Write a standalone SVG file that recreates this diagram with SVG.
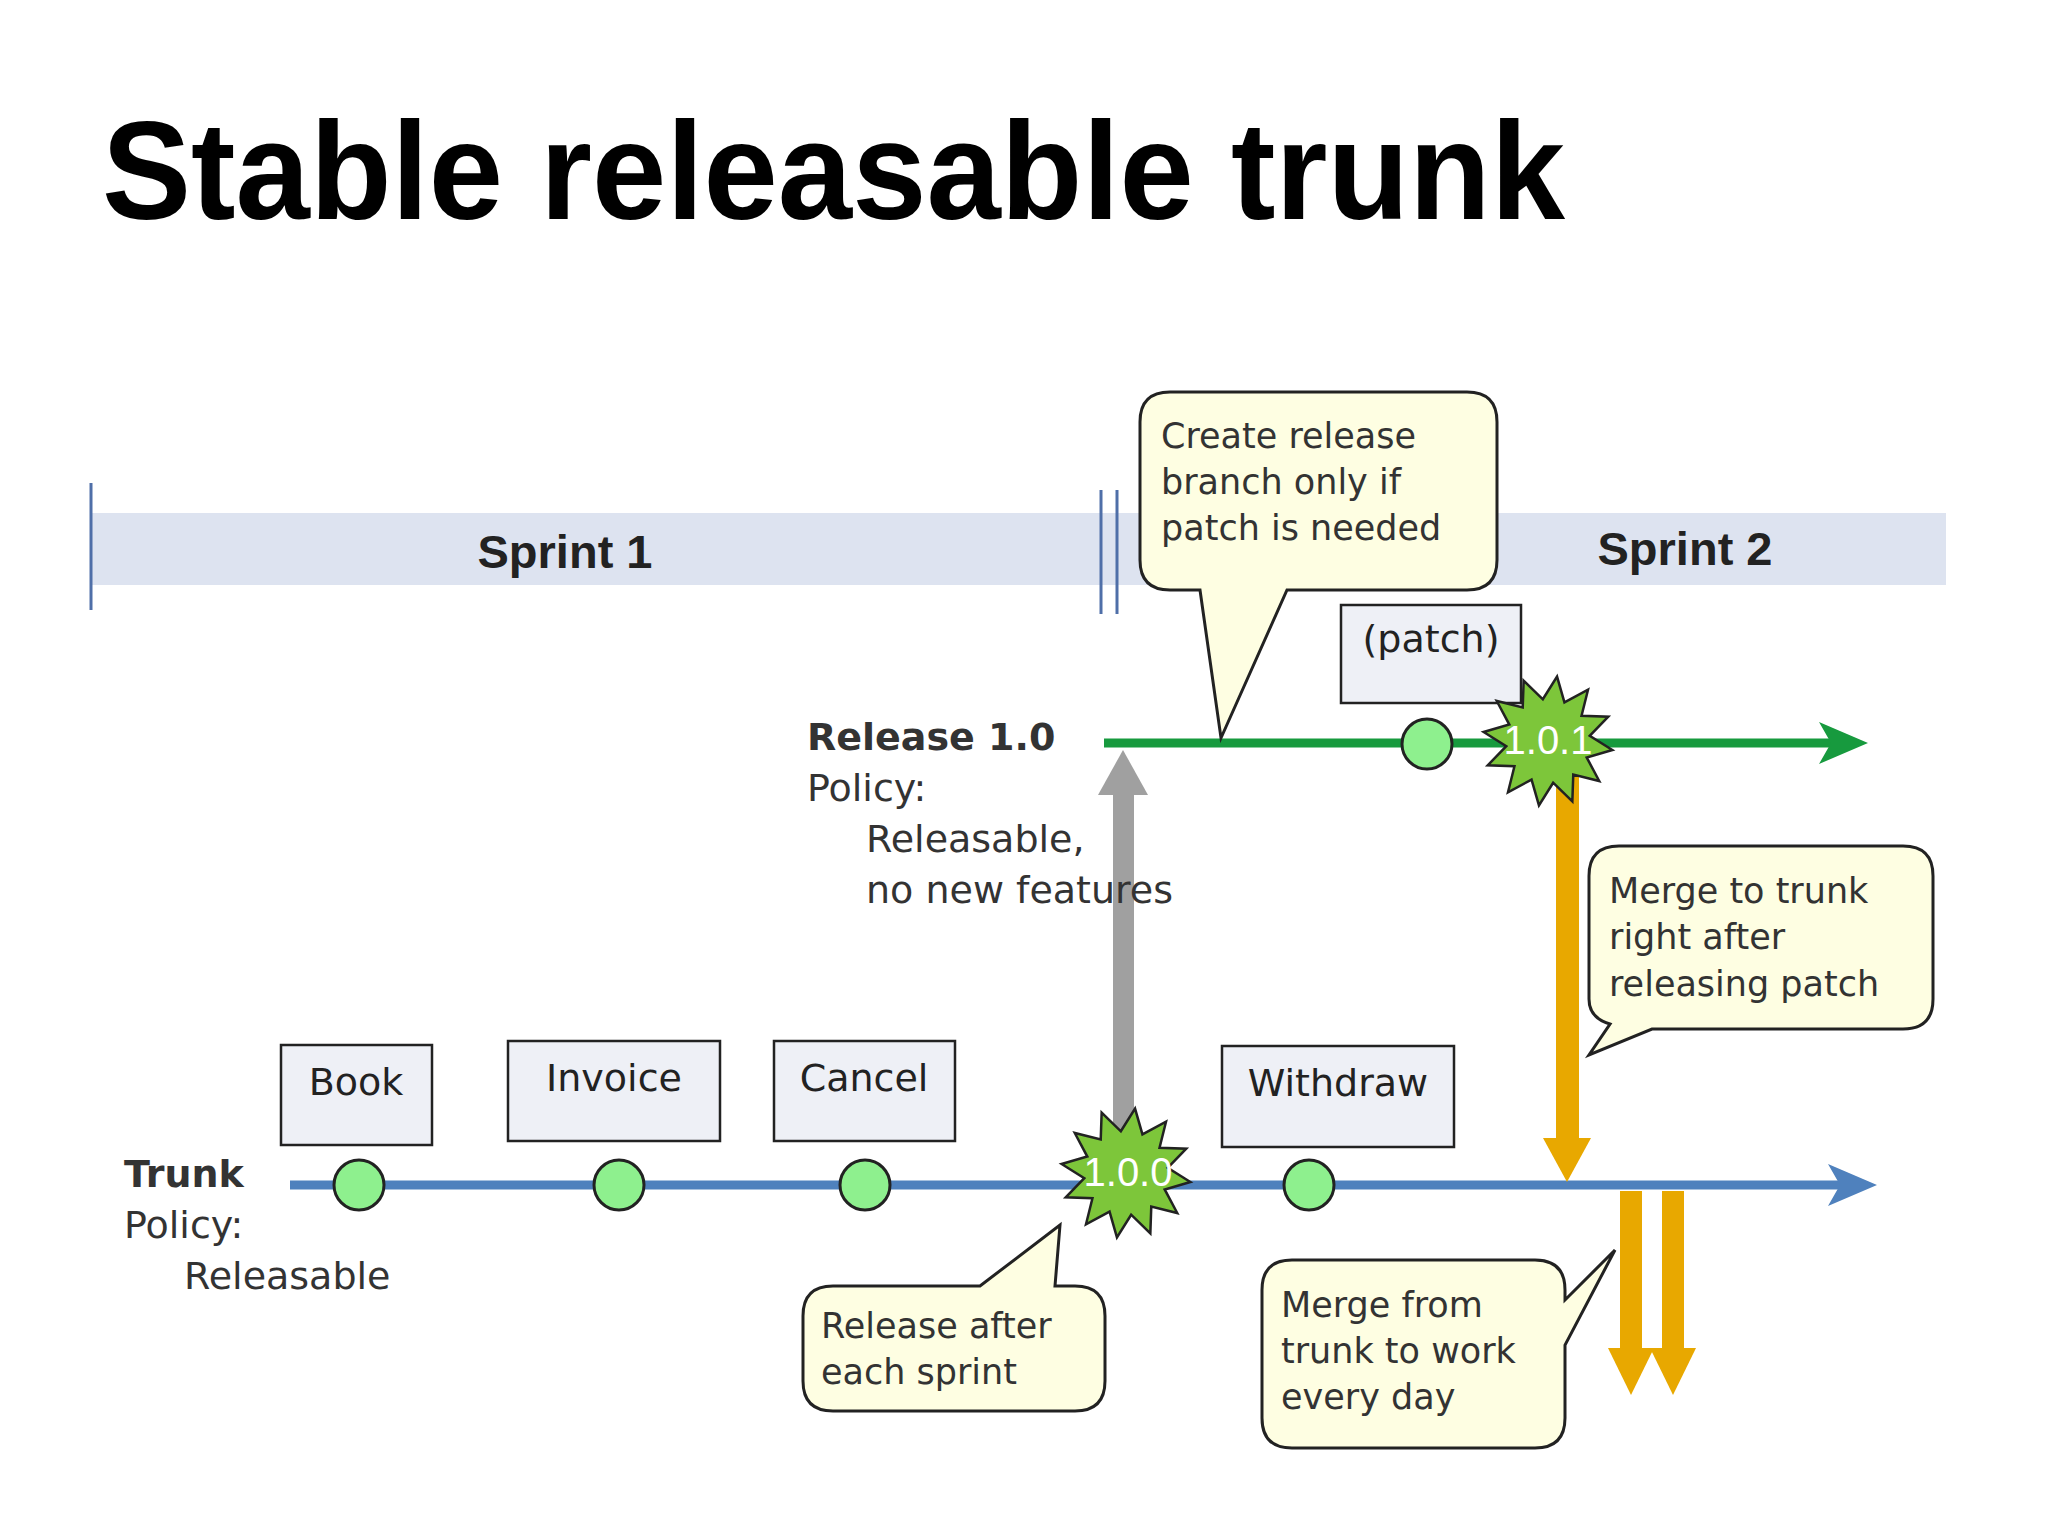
<svg xmlns="http://www.w3.org/2000/svg" width="2048" height="1536" viewBox="0 0 2048 1536">
<style>
.co{fill:#fefee2;stroke:#222;stroke-width:3}
.ct{font-family:"DejaVu Sans",sans-serif;font-size:35px;fill:#333}
.bx{fill:#eef0f6;stroke:#222;stroke-width:2.5}
.bt{font-family:"DejaVu Sans",sans-serif;font-size:38px;fill:#222;text-anchor:middle}
.dot{fill:#8ef08e;stroke:#222;stroke-width:3}
.star{fill:#7dc63a;stroke:#222;stroke-width:2.5}
.st{font-family:"Liberation Sans",sans-serif;font-size:40px;fill:#fff;text-anchor:middle}
.lt{font-family:"DejaVu Sans",sans-serif;font-size:38px;fill:#333}
</style>
<defs>
<polygon id="starp" points="65,0 40.6,10.9 56.3,32.5 29.7,29.7 32.5,56.3 10.9,40.6 0,65 -10.9,40.6 -32.5,56.3 -29.7,29.7 -56.3,32.5 -40.6,10.9 -65,0 -40.6,-10.9 -56.3,-32.5 -29.7,-29.7 -32.5,-56.3 -10.9,-40.6 0,-65 10.9,-40.6 32.5,-56.3 29.7,-29.7 56.3,-32.5 40.6,-10.9"/>
</defs>
<rect width="2048" height="1536" fill="#fff"/>
<text x="102" y="219" font-family="Liberation Sans,sans-serif" font-weight="bold" font-size="140" textLength="1463" lengthAdjust="spacingAndGlyphs" fill="#000">Stable releasable trunk</text>
<g id="sprints">
<rect x="91" y="513" width="1855" height="72" fill="#dde3f0"/>
<line x1="91" y1="483" x2="91" y2="610" stroke="#4f6fa8" stroke-width="3"/>
<line x1="1101" y1="490" x2="1101" y2="614" stroke="#4f6fa8" stroke-width="3"/>
<line x1="1117" y1="490" x2="1117" y2="614" stroke="#4f6fa8" stroke-width="3"/>
<text x="565" y="568" font-family="Liberation Sans,sans-serif" font-weight="bold" font-size="47" text-anchor="middle" fill="#222">Sprint 1</text>
<text x="1685" y="565" font-family="Liberation Sans,sans-serif" font-weight="bold" font-size="47" text-anchor="middle" fill="#222">Sprint 2</text>
</g>
<g id="connectors">
<line x1="290" y1="1185" x2="1840" y2="1185" stroke="#4f81bd" stroke-width="9"/>
<polygon points="1877,1185 1828,1164 1840,1185 1828,1206" fill="#4f81bd"/>
<line x1="1104" y1="743" x2="1832" y2="743" stroke="#179a3e" stroke-width="9"/>
<polygon points="1868,743 1819,722 1831,743 1819,764" fill="#179a3e"/>
<rect x="1113" y="790" width="21" height="379" fill="#a0a0a0"/>
<polygon points="1123,750 1098,795 1148,795" fill="#a0a0a0"/>
<rect x="1556" y="771" width="23" height="370" fill="#e8a800"/>
<polygon points="1567,1182 1543,1138 1591,1138" fill="#e8a800"/>
<rect x="1620" y="1191" width="22" height="160" fill="#e8a800"/>
<polygon points="1631,1395 1608,1348 1654,1348" fill="#e8a800"/>
<rect x="1662" y="1191" width="22" height="160" fill="#e8a800"/>
<polygon points="1673,1395 1650,1348 1696,1348" fill="#e8a800"/>
</g>
<g id="labels">
<text x="807" y="750" class="lt" font-weight="bold" fill="#111">Release 1.0</text>
<text x="807" y="801" class="lt">Policy:</text>
<text x="866" y="852" class="lt">Releasable,</text>
<text x="866" y="903" class="lt">no new features</text>
<text x="124" y="1187" class="lt" font-weight="bold" fill="#111">Trunk</text>
<text x="124" y="1238" class="lt">Policy:</text>
<text x="184" y="1289" class="lt">Releasable</text>
</g>
<g id="box-book"><rect x="281" y="1045" width="151" height="100" class="bx"/><text x="356" y="1095" class="bt">Book</text></g>
<g id="box-invoice"><rect x="508" y="1041" width="212" height="100" class="bx"/><text x="614" y="1091" class="bt">Invoice</text></g>
<g id="box-cancel"><rect x="774" y="1041" width="181" height="100" class="bx"/><text x="864" y="1091" class="bt">Cancel</text></g>
<g id="box-withdraw"><rect x="1222" y="1046" width="232" height="101" class="bx"/><text x="1338" y="1096" class="bt">Withdraw</text></g>
<g id="box-patch"><rect x="1341" y="605" width="180" height="98" class="bx"/><text x="1431" y="652" class="bt">(patch)</text></g>
<g id="dots">
<circle cx="359" cy="1185" r="25" class="dot"/>
<circle cx="619" cy="1185" r="25" class="dot"/>
<circle cx="865" cy="1185" r="25" class="dot"/>
<circle cx="1309" cy="1185" r="25" class="dot"/>
<circle cx="1427" cy="744" r="25" class="dot"/>
</g>
<g id="star-100"><use href="#starp" transform="translate(1126,1173) rotate(8)" class="star"/><text x="1128" y="1186" class="st">1.0.0</text></g>
<g id="star-101"><use href="#starp" transform="translate(1548,741) rotate(8)" class="star"/><text x="1548" y="754" class="st">1.0.1</text></g>
<g id="callout-create">
<path class="co" d="M1170,392 H1467 Q1497,392 1497,422 V560 Q1497,590 1467,590 H1287 L1221,738 L1200,590 H1170 Q1140,590 1140,560 V422 Q1140,392 1170,392 Z"/>
<text class="ct" x="1161" y="448">Create release</text>
<text class="ct" x="1161" y="494">branch only if</text>
<text class="ct" x="1161" y="540">patch is needed</text>
</g>
<g id="callout-merge-to">
<path class="co" d="M1619,846 H1903 Q1933,846 1933,876 V999 Q1933,1029 1903,1029 H1652 L1589,1055 L1610,1024 Q1589,1018 1589,999 V876 Q1589,846 1619,846 Z"/>
<text class="ct" x="1609" y="903">Merge to trunk</text>
<text class="ct" x="1609" y="949">right after</text>
<text class="ct" x="1609" y="996">releasing patch</text>
</g>
<g id="callout-release">
<path class="co" d="M833,1286 H980 L1060,1225 L1055,1286 H1075 Q1105,1286 1105,1316 V1381 Q1105,1411 1075,1411 H833 Q803,1411 803,1381 V1316 Q803,1286 833,1286 Z"/>
<text class="ct" x="821" y="1338">Release after</text>
<text class="ct" x="821" y="1384">each sprint</text>
</g>
<g id="callout-merge-from">
<path class="co" d="M1292,1260 H1535 Q1565,1260 1565,1290 V1300 L1615,1250 L1565,1345 V1418 Q1565,1448 1535,1448 H1292 Q1262,1448 1262,1418 V1290 Q1262,1260 1292,1260 Z"/>
<text class="ct" x="1281" y="1317">Merge from</text>
<text class="ct" x="1281" y="1363">trunk to work</text>
<text class="ct" x="1281" y="1409">every day</text>
</g>
</svg>
